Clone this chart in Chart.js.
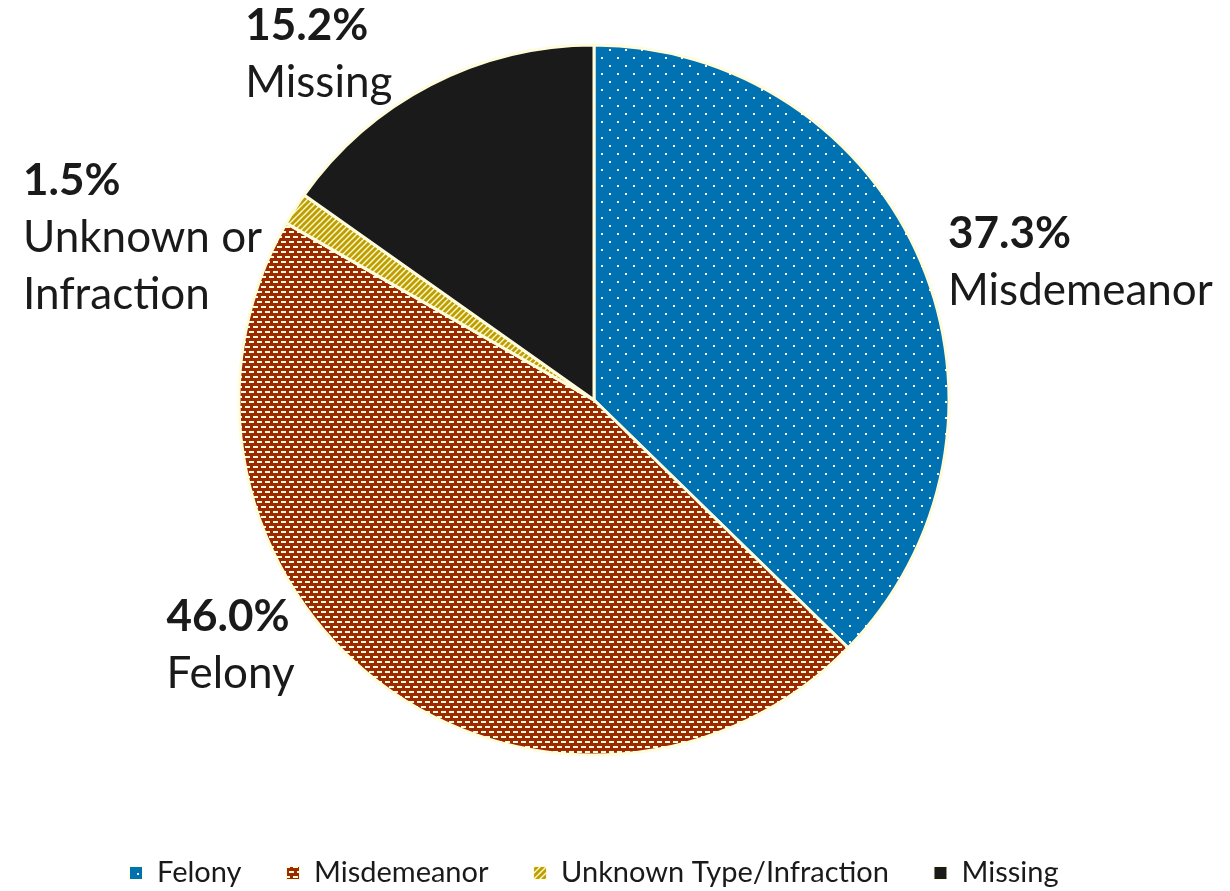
<!DOCTYPE html>
<html>
<head>
<meta charset="utf-8">
<script src="https://cdn.jsdelivr.net/npm/chart.js@4.4.1/dist/chart.umd.min.js"></script>
<style>
  html, body { margin: 0; padding: 0; background: #fff; }
  #wrap { width: 1230px; height: 891px; }
</style>
</head>
<body>
<div id="wrap"><canvas id="pie" width="1230" height="891"></canvas></div>
<script>
// data
const categories = ["Felony", "Misdemeanor", "Unknown Type/Infraction", "Missing"];
const values = [37.3, 46.0, 1.5, 15.2];
// slice labels as printed next to the slices
const sliceNames = [["Misdemeanor"], ["Felony"], ["Unknown or", "Infraction"], ["Missing"]];

// label placement: [angle shift in degrees, radius factor]
const labelLayout = [[1.6, 1.07], [13.6, 1.09], [-6.6, 1.04], [-2.9, 1.127]];

const cream = "#fffcdc";
const ink = "#1a1a1a";
const fontFamily = "Lato, 'Noto Sans', sans-serif";

function makePattern(w, h, draw) {
  const c = document.createElement("canvas");
  c.width = w; c.height = h;
  const g = c.getContext("2d");
  draw(g, w, h);
  return document.getElementById("pie").getContext("2d").createPattern(c, "repeat");
}

const dots = makePattern(16, 16, (g, w, h) => {
  g.fillStyle = "#0071b1"; g.fillRect(0, 0, w, h);
  g.fillStyle = "#ffffff";
  g.fillRect(1, 1, 2, 2);
  g.fillRect(9, 9, 2, 2);
});
const bricks = makePattern(8, 10, (g, w, h) => {
  g.fillStyle = "#9b2a00"; g.fillRect(0, 0, w, h);
  g.fillStyle = cream;
  g.fillRect(1, 1, 5, 2);
  g.fillRect(5, 6, 5, 2);
  g.fillRect(-3, 6, 5, 2);
});
const stripes = makePattern(6, 6, (g, w, h) => {
  g.fillStyle = cream; g.fillRect(0, 0, w, h);
  g.strokeStyle = "#bf9f00"; g.lineWidth = 3;
  for (let k = -2; k <= 2; k++) {
    g.beginPath();
    g.moveTo(k * 6 - 1, h + 1);
    g.lineTo(k * 6 + w + 1, -1);
    g.stroke();
  }
});
const solid = "#1a1a1a";

const sliceLabels = {
  id: "sliceLabels",
  afterDraw(chart) {
    const ctx = chart.ctx;
    const arcs = chart.getDatasetMeta(0).data;
    const lineH = 57;
    ctx.save();
    ctx.fillStyle = ink;
    ctx.textBaseline = "middle";
    ctx.textAlign = "left";
    arcs.forEach((arc, i) => {
      const p = arc.getProps(["x", "y", "startAngle", "endAngle", "outerRadius"], true);
      const [shift, k] = labelLayout[i];
      const a = (p.startAngle + p.endAngle) / 2 + shift * Math.PI / 180;
      const px = p.x + Math.cos(a) * p.outerRadius * k;
      const py = p.y + Math.sin(a) * p.outerRadius * k;
      const lines = [values[i].toFixed(1) + "%"].concat(sliceNames[i]);
      const fonts = lines.map((t, j) => (j === 0 ? "bold " : "") + "44px " + fontFamily);
      let w = 0;
      lines.forEach((t, j) => { ctx.font = fonts[j]; w = Math.max(w, ctx.measureText(t).width); });
      const left = px >= p.x ? px : px - w;
      const top = py - (lines.length - 1) * lineH / 2;
      lines.forEach((t, j) => {
        ctx.font = fonts[j];
        ctx.fillText(t, left, top + j * lineH);
      });
    });
    ctx.restore();
  }
};

new Chart(document.getElementById("pie"), {
  type: "pie",
  data: {
    labels: categories,
    datasets: [{
      data: values,
      backgroundColor: [dots, bricks, stripes, solid],
      borderColor: cream,
      borderWidth: 3,
      radius: 355
    }]
  },
  options: {
    responsive: false,
    animation: false,
    layout: { padding: { top: 0, right: 42, left: 0, bottom: -6.5 } },
    plugins: {
      tooltip: { enabled: false },
      legend: {
        position: "bottom",
        // empty title only pushes the legend row down
        title: { display: true, text: "", font: { size: 1, lineHeight: 1 }, padding: { top: 12.5, bottom: 0 } },
        labels: {
          boxWidth: 13,
          boxHeight: 13,
          padding: 45,
          color: ink,
          font: { family: fontFamily, size: 29 },
          generateLabels(chart) {
            const items = Chart.overrides.pie.plugins.legend.labels.generateLabels(chart);
            items.forEach(it => { it.lineWidth = 1; });
            return items;
          }
        }
      }
    }
  },
  plugins: [sliceLabels]
});
</script>
</body>
</html>
